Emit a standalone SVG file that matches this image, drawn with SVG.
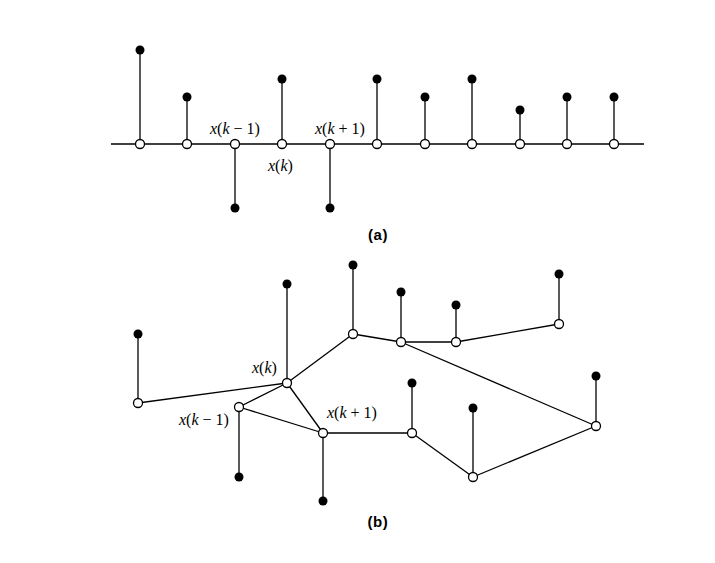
<svg xmlns="http://www.w3.org/2000/svg" width="715" height="563" viewBox="0 0 715 563">
<style>
.e{stroke:#000;stroke-width:1.3;fill:none}
.o{fill:#fff;stroke:#000;stroke-width:1.3}
.d{fill:#000}
.t{font-family:"Liberation Serif","Times New Roman",serif;font-size:16px;fill:#000}
.i{font-style:italic}
.c{font-family:"Liberation Sans",Arial,sans-serif;font-weight:bold;font-size:15px;letter-spacing:0.6px;fill:#000;text-anchor:middle}
</style>
<rect width="715" height="563" fill="#fff"/>
<g id="connectors">
<line class="e" x1="111" y1="144" x2="644" y2="144"/>
<line class="e" x1="140" y1="144" x2="140" y2="50"/>
<line class="e" x1="187" y1="144" x2="187" y2="97"/>
<line class="e" x1="235" y1="144" x2="235" y2="208"/>
<line class="e" x1="282" y1="144" x2="282" y2="79"/>
<line class="e" x1="330" y1="144" x2="330" y2="208"/>
<line class="e" x1="377" y1="144" x2="377" y2="79"/>
<line class="e" x1="425" y1="144" x2="425" y2="97"/>
<line class="e" x1="472" y1="144" x2="472" y2="79"/>
<line class="e" x1="520" y1="144" x2="520" y2="110"/>
<line class="e" x1="567" y1="144" x2="567" y2="97"/>
<line class="e" x1="614" y1="144" x2="614" y2="97"/>
<line class="e" x1="138" y1="403" x2="138" y2="334"/>
<line class="e" x1="287" y1="383" x2="287" y2="284"/>
<line class="e" x1="353" y1="334" x2="353" y2="265"/>
<line class="e" x1="239" y1="407" x2="239" y2="477"/>
<line class="e" x1="323" y1="433" x2="323" y2="501"/>
<line class="e" x1="401" y1="342" x2="401" y2="292"/>
<line class="e" x1="456" y1="342" x2="456" y2="305"/>
<line class="e" x1="559" y1="324" x2="559" y2="274"/>
<line class="e" x1="412" y1="433" x2="412" y2="383"/>
<line class="e" x1="473" y1="477" x2="473" y2="408"/>
<line class="e" x1="596" y1="426" x2="596" y2="376"/>
<line class="e" x1="138" y1="403" x2="287" y2="383"/>
<line class="e" x1="287" y1="383" x2="353" y2="334"/>
<line class="e" x1="287" y1="383" x2="239" y2="407"/>
<line class="e" x1="287" y1="383" x2="323" y2="433"/>
<line class="e" x1="239" y1="407" x2="323" y2="433"/>
<line class="e" x1="323" y1="433" x2="412" y2="433"/>
<line class="e" x1="412" y1="433" x2="473" y2="477"/>
<line class="e" x1="473" y1="477" x2="596" y2="426"/>
<line class="e" x1="596" y1="426" x2="401" y2="342"/>
<line class="e" x1="353" y1="334" x2="401" y2="342"/>
<line class="e" x1="401" y1="342" x2="456" y2="342"/>
<line class="e" x1="456" y1="342" x2="559" y2="324"/>
</g>
<g id="a-nodes">
<g id="a1"><circle class="o" cx="140" cy="144" r="4.5"/><circle class="d" cx="140" cy="50" r="4.5"/></g>
<g id="a2"><circle class="o" cx="187" cy="144" r="4.5"/><circle class="d" cx="187" cy="97" r="4.5"/></g>
<g id="a3"><circle class="o" cx="235" cy="144" r="4.5"/><circle class="d" cx="235" cy="208" r="4.5"/></g>
<g id="a4"><circle class="o" cx="282" cy="144" r="4.5"/><circle class="d" cx="282" cy="79" r="4.5"/></g>
<g id="a5"><circle class="o" cx="330" cy="144" r="4.5"/><circle class="d" cx="330" cy="208" r="4.5"/></g>
<g id="a6"><circle class="o" cx="377" cy="144" r="4.5"/><circle class="d" cx="377" cy="79" r="4.5"/></g>
<g id="a7"><circle class="o" cx="425" cy="144" r="4.5"/><circle class="d" cx="425" cy="97" r="4.5"/></g>
<g id="a8"><circle class="o" cx="472" cy="144" r="4.5"/><circle class="d" cx="472" cy="79" r="4.5"/></g>
<g id="a9"><circle class="o" cx="520" cy="144" r="4.5"/><circle class="d" cx="520" cy="110" r="4.5"/></g>
<g id="a10"><circle class="o" cx="567" cy="144" r="4.5"/><circle class="d" cx="567" cy="97" r="4.5"/></g>
<g id="a11"><circle class="o" cx="614" cy="144" r="4.5"/><circle class="d" cx="614" cy="97" r="4.5"/></g>
</g>
<g id="b-nodes">
<g id="bA"><circle class="o" cx="138" cy="403" r="4.5"/><circle class="d" cx="138" cy="334" r="4.5"/></g>
<g id="bxk"><circle class="o" cx="287" cy="383" r="4.5"/><circle class="d" cx="287" cy="284" r="4.5"/></g>
<g id="bB"><circle class="o" cx="353" cy="334" r="4.5"/><circle class="d" cx="353" cy="265" r="4.5"/></g>
<g id="bxkm1"><circle class="o" cx="239" cy="407" r="4.5"/><circle class="d" cx="239" cy="477" r="4.5"/></g>
<g id="bxkp1"><circle class="o" cx="323" cy="433" r="4.5"/><circle class="d" cx="323" cy="501" r="4.5"/></g>
<g id="bC"><circle class="o" cx="401" cy="342" r="4.5"/><circle class="d" cx="401" cy="292" r="4.5"/></g>
<g id="bD"><circle class="o" cx="456" cy="342" r="4.5"/><circle class="d" cx="456" cy="305" r="4.5"/></g>
<g id="bE"><circle class="o" cx="559" cy="324" r="4.5"/><circle class="d" cx="559" cy="274" r="4.5"/></g>
<g id="bF"><circle class="o" cx="412" cy="433" r="4.5"/><circle class="d" cx="412" cy="383" r="4.5"/></g>
<g id="bG"><circle class="o" cx="473" cy="477" r="4.5"/><circle class="d" cx="473" cy="408" r="4.5"/></g>
<g id="bH"><circle class="o" cx="596" cy="426" r="4.5"/><circle class="d" cx="596" cy="376" r="4.5"/></g>
</g>
<g id="labels">
<text class="t" x="210" y="134"><tspan class="i">x</tspan>(<tspan class="i">k</tspan> − 1)</text>
<text class="t" x="315" y="134"><tspan class="i">x</tspan>(<tspan class="i">k</tspan> + 1)</text>
<text class="t" x="268" y="171"><tspan class="i">x</tspan>(<tspan class="i">k</tspan>)</text>
<text class="c" x="378" y="240">(a)</text>
<text class="t" x="252" y="373"><tspan class="i">x</tspan>(<tspan class="i">k</tspan>)</text>
<text class="t" x="179" y="425"><tspan class="i">x</tspan>(<tspan class="i">k</tspan> − 1)</text>
<text class="t" x="327" y="418"><tspan class="i">x</tspan>(<tspan class="i">k</tspan> + 1)</text>
<text class="c" x="378" y="527">(b)</text>
</g>
</svg>
